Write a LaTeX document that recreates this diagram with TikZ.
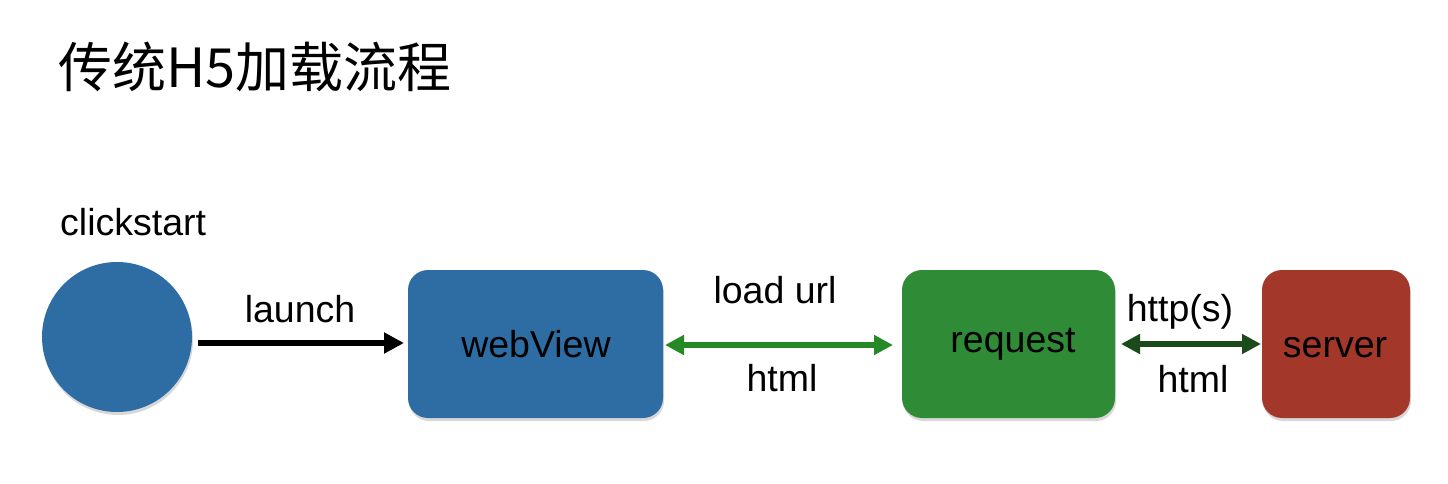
\documentclass[tikz,border=0pt]{standalone}
\usepackage{fontspec}
\setmainfont{Liberation Sans}
\newfontfamily\cjk{Noto Sans CJK SC}
\usetikzlibrary{arrows.meta,shadows}
\definecolor{cblue}{HTML}{2E6DA4}
\definecolor{cgreen}{HTML}{2F8B36}
\definecolor{cred}{HTML}{A2372A}
\definecolor{agreen}{HTML}{258A25}
\definecolor{dgreen}{HTML}{1B4A1B}
\tikzset{
  lbl/.style={font=\fontsize{37.5}{42}\selectfont, text=black, inner sep=0pt, anchor=base},
  boxnode/.style={rounded corners=20pt, inner sep=0pt,
     drop shadow={shadow xshift=1pt, shadow yshift=-3pt, opacity=0.3}},
  conn/.style={line width=6pt, -{Triangle[length=20pt,width=20pt]}},
  biconn/.style={line width=5.5pt, {Triangle[length=19pt,width=19pt]}-{Triangle[length=19pt,width=19pt]}},
}
\begin{document}
\begin{tikzpicture}[x=1pt,y=-1pt]
\useasboundingbox (0,0) rectangle (1448,484);
\fill[white] (0,0) rectangle (1448,484);
\node[anchor=base west, inner sep=0pt, font=\cjk\fontsize{54}{60}\selectfont] (title) at (58,88) {传统H5加载流程};
\node[lbl, anchor=base west] (cs) at (60,235) {clickstart};
\node[circle, fill=cblue, minimum size=150pt, inner sep=0pt,
      drop shadow={shadow xshift=1pt, shadow yshift=-3pt, opacity=0.3}] (start) at (117,337) {};
\node[boxnode, fill=cblue, minimum width=255pt, minimum height=148pt] (web) at (535.5,344) {};
\node[lbl] (webt) at (536,357) {webView};
\node[boxnode, fill=cgreen, minimum width=213pt, minimum height=148pt] (req) at (1008.5,344) {};
\node[lbl] (reqt) at (1013,352) {request};
\node[boxnode, fill=cred, minimum width=148pt, minimum height=148pt] (srv) at (1336,344) {};
\node[lbl] (srvt) at (1335,357) {server};
\coordinate (a1s) at (198,343);
\coordinate (a1e) at (404,343);
\draw[conn, black] (a1s) -- (a1e);
\node[lbl] (launch) at (300,322) {launch};
\coordinate (a2s) at (665,345);
\coordinate (a2e) at (893,345);
\draw[biconn, agreen] (a2s) -- (a2e);
\node[lbl] (lu) at (775,303) {load url};
\node[lbl] (h1) at (782,391) {html};
\coordinate (a3s) at (1121,344);
\coordinate (a3e) at (1261,344);
\draw[biconn, dgreen] (a3s) -- (a3e);
\node[lbl] (hs) at (1180,321) {http(s)};
\node[lbl] (h2) at (1193,392) {html};
\end{tikzpicture}
\end{document}
